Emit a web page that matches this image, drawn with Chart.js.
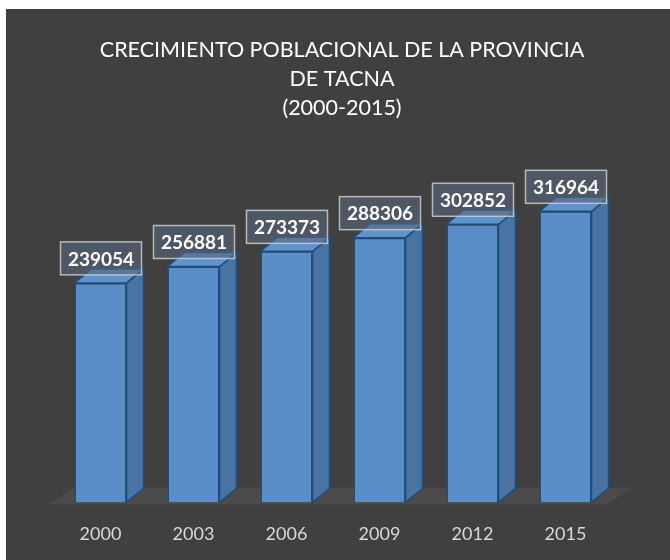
<!DOCTYPE html>
<html>
<head>
<meta charset="utf-8">
<script src="https://cdn.jsdelivr.net/npm/chart.js@4.4.0/dist/chart.umd.min.js"></script>
<style>
  html, body { margin: 0; padding: 0; background: #ffffff; }
  #wrap { position: absolute; left: 6px; top: 9px; width: 664px; height: 551px; background: #404040; overflow: hidden; }
</style>
</head>
<body>
<div id="wrap"><canvas id="tacnaChart" width="664" height="557"></canvas></div>
<script>
// datos
const years = ["2000", "2003", "2006", "2009", "2012", "2015"];
const population = [239054, 256881, 273373, 288306, 302852, 316964];
const titleLines = ["CRECIMIENTO POBLACIONAL DE LA PROVINCIA", "DE TACNA", "(2000-2015)"];

// profundidad del efecto 3D
const depthX = 17, depthY = -14;

// plugin: titulo, piso, caras laterales/superiores y etiquetas
const bars3d = {
  id: "bars3d",
  beforeDatasetsDraw(chart) {
    const { ctx, chartArea } = chart;
    const y0 = chartArea.bottom + 2;
    ctx.save();
    ctx.fillStyle = "#4c4a4a";
    ctx.beginPath();
    ctx.moveTo(chartArea.left - 5, y0);
    ctx.lineTo(chartArea.right - 5, y0);
    ctx.lineTo(chartArea.right + 20, y0 - 17);
    ctx.lineTo(chartArea.left + 20, y0 - 17);
    ctx.closePath();
    ctx.fill();

    // titulo en tres lineas
    ctx.fillStyle = "#ffffff";
    ctx.font = "21.5px Lato";
    ctx.textAlign = "center";
    ctx.textBaseline = "middle";
    titleLines.forEach((line, i) => {
      ctx.fillText(line, 336, 41 + i * 29);
    });
    ctx.restore();
  },
  afterDatasetsDraw(chart) {
    const { ctx } = chart;
    const meta = chart.getDatasetMeta(0);
    ctx.save();
    meta.data.forEach((bar, i) => {
      const l = bar.x - bar.width / 2, r = bar.x + bar.width / 2;
      const t = bar.y, b = bar.base;
      ctx.lineWidth = 1.5;
      ctx.strokeStyle = "#1f4e79";
      // cara lateral
      ctx.fillStyle = "#4873a3";
      ctx.beginPath();
      ctx.moveTo(r, t);
      ctx.lineTo(r + depthX, t + depthY);
      ctx.lineTo(r + depthX, b + depthY);
      ctx.lineTo(r, b);
      ctx.closePath();
      ctx.fill();
      ctx.stroke();
      // cara superior
      ctx.fillStyle = "#5f93cc";
      ctx.beginPath();
      ctx.moveTo(l, t);
      ctx.lineTo(l + depthX, t + depthY);
      ctx.lineTo(r + depthX, t + depthY);
      ctx.lineTo(r, t);
      ctx.closePath();
      ctx.fill();
      ctx.stroke();
    });
    // etiquetas de datos
    meta.data.forEach((bar, i) => {
      const w = 81, h = 33;
      const cx = bar.x + 0.5, bottom = bar.y - 8;
      ctx.fillStyle = "rgba(88,102,122,0.62)";
      ctx.fillRect(cx - w / 2, bottom - h, w, h);
      ctx.strokeStyle = "rgba(205,205,205,0.85)";
      ctx.lineWidth = 1.5;
      ctx.strokeRect(cx - w / 2, bottom - h, w, h);
      ctx.fillStyle = "#ffffff";
      ctx.font = "bold 19px Lato";
      ctx.textAlign = "center";
      ctx.textBaseline = "middle";
      ctx.fillText(String(population[i]), cx, bottom - h / 2 + 1);
    });
    ctx.restore();
  }
};

const ctx = document.getElementById("tacnaChart");
new Chart(ctx, {
  type: "bar",
  data: {
    labels: years,
    datasets: [{
      label: "Población",
      data: population,
      backgroundColor: "#5a8ec8",
      borderColor: "#1f4e79",
      borderWidth: 1.5,
      barPercentage: 0.56,
      categoryPercentage: 1.0,
    }],
  },
  options: {
    responsive: false,
    animation: false,
    layout: { padding: { left: 48, right: 58, top: 172, bottom: 0 } },
    scales: {
      x: {
        grid: { display: false, drawTicks: false },
        border: { display: false },
        ticks: { color: "#d9d9d9", font: { family: "Lato", size: 18 }, padding: 21 },
      },
      y: { display: false, min: 0, max: 350000 },
    },
    plugins: {
      legend: { display: false },
      tooltip: { enabled: false },
      title: { display: false },
    },
  },
  plugins: [bars3d],
});
</script>
</body>
</html>
